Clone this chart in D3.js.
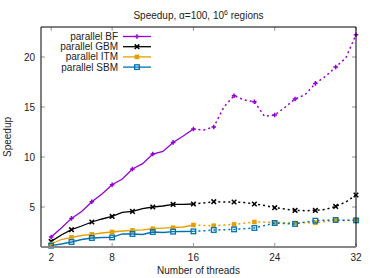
<!DOCTYPE html>
<html>
<head>
<meta charset="utf-8">
<script src="https://cdn.jsdelivr.net/npm/d3@7"></script>
<style>
  body { margin: 0; background: #fff; }
  text { font-family: "Liberation Sans", Arial, sans-serif; fill: #222; }
</style>
</head>
<body>
<div id="container"></div>
<script>
/* CONSTANTS AND GLOBALS */
const width = 374,
  height = 278,
  margin = { top: 27, bottom: 31, left: 41, right: 18 };

// data: one value per thread count
const threads = [2, 3, 4, 5, 6, 7, 8, 9, 10, 11, 12, 13, 14, 15, 16, 17, 18, 19, 20, 21, 22, 23, 24, 25, 26, 27, 28, 29, 30, 31, 32];
const bf = [2.0, 2.9, 3.86, 4.55, 5.53, 6.3, 7.23, 7.8, 8.8, 9.33, 10.3, 10.56, 11.46, 12.1, 12.8, 12.7, 13.0, 15.0, 16.13, 15.7, 15.53, 14.06, 14.2, 14.96, 15.8, 16.23, 17.36, 18.06, 19.0, 19.9, 22.23];
const gbm = [1.56, 2.2, 2.73, 3.1, 3.5, 3.8, 4.06, 4.46, 4.56, 4.83, 5.0, 5.1, 5.26, 5.27, 5.3, 5.4, 5.53, 5.5, 5.5, 5.45, 5.3, 5.15, 4.93, 4.8, 4.66, 4.63, 4.66, 4.75, 5.06, 5.5, 6.2];
const itm = [1.3, 1.75, 1.96, 2.15, 2.26, 2.4, 2.5, 2.6, 2.66, 2.72, 2.83, 2.88, 2.93, 3.0, 3.2, 3.15, 3.13, 3.2, 3.26, 3.38, 3.5, 3.48, 3.46, 3.43, 3.4, 3.42, 3.43, 3.55, 3.66, 3.65, 3.63];
const sbm = [1.13, 1.3, 1.5, 1.75, 1.9, 1.95, 1.96, 2.3, 2.3, 2.25, 2.5, 2.45, 2.53, 2.55, 2.56, 2.62, 2.7, 2.72, 2.76, 2.83, 2.9, 3.15, 3.4, 3.35, 3.3, 3.5, 3.63, 3.68, 3.7, 3.68, 3.66];

const seriesNames = ["parallel BF", "parallel GBM", "parallel ITM", "parallel SBM"];
const seriesColors = ["#9400d3", "#000000", "#e69f00", "#0072b2"];
const seriesMarkers = ["plus", "cross", "fsquare", "osquare"];
const xTicks = [2, 8, 16, 24, 32];
const yTicks = [5, 10, 15, 20];
const splitAt = 16; // solid up to here, dotted after

const series = [bf, gbm, itm, sbm].map((vals, i) => ({
  name: seriesNames[i],
  color: seriesColors[i],
  marker: seriesMarkers[i],
  values: vals.map((v, j) => ({ t: threads[j], v: v }))
}));

/* SCALES */
const xScale = d3.scaleLinear()
  .domain([1, 32])
  .range([margin.left, width - margin.right]);

const yScale = d3.scaleLinear()
  .domain([1, 23])
  .range([height - margin.bottom, margin.top]);

const svg = d3.select("#container")
  .append("svg")
  .attr("width", width)
  .attr("height", height);

// title
const title = svg.append("text")
  .attr("x", (margin.left + width - margin.right) / 2)
  .attr("y", 19)
  .attr("text-anchor", "middle")
  .attr("font-size", 10);
title.append("tspan").text("Speedup, α=100, 10");
title.append("tspan").attr("font-size", 7).attr("dy", -4).text("6");
title.append("tspan").attr("dy", 4).text(" regions");

// + AXES (gnuplot style, ticks inside and mirrored)
const tickLen = 4;
const x0 = xScale.range()[0], x1 = xScale.range()[1];
const y0 = yScale.range()[0], y1 = yScale.range()[1];

svg.append("g")
  .selectAll("line")
  .data(yTicks)
  .join("line")
  .attr("x1", x0).attr("x2", x0 + tickLen)
  .attr("y1", d => yScale(d)).attr("y2", d => yScale(d))
  .attr("stroke", "#999");
svg.append("g")
  .selectAll("line")
  .data(yTicks)
  .join("line")
  .attr("x1", x1).attr("x2", x1 - tickLen)
  .attr("y1", d => yScale(d)).attr("y2", d => yScale(d))
  .attr("stroke", "#999");
svg.append("g")
  .selectAll("line")
  .data(xTicks)
  .join("line")
  .attr("x1", d => xScale(d)).attr("x2", d => xScale(d))
  .attr("y1", y0).attr("y2", y0 - tickLen)
  .attr("stroke", "#999");
svg.append("g")
  .selectAll("line")
  .data(xTicks)
  .join("line")
  .attr("x1", d => xScale(d)).attr("x2", d => xScale(d))
  .attr("y1", y1).attr("y2", y1 + tickLen)
  .attr("stroke", "#999");

svg.append("g")
  .selectAll("text")
  .data(yTicks)
  .join("text")
  .attr("x", x0 - 6)
  .attr("y", d => yScale(d) + 3.5)
  .attr("text-anchor", "end")
  .attr("font-size", 10)
  .text(d => d);

svg.append("g")
  .selectAll("text")
  .data(xTicks)
  .join("text")
  .attr("x", d => xScale(d))
  .attr("y", y0 + 14)
  .attr("text-anchor", "middle")
  .attr("font-size", 10)
  .text(d => d);

svg.append("text")
  .attr("x", (x0 + x1) / 2)
  .attr("y", 274)
  .attr("text-anchor", "middle")
  .attr("font-size", 10)
  .text("Number of threads");

svg.append("text")
  .attr("transform", `translate(11,${(y0 + y1) / 2}) rotate(-90)`)
  .attr("text-anchor", "middle")
  .attr("font-size", 10)
  .text("Speedup");

// + LINES
const line = d3.line()
  .x(d => xScale(d.t))
  .y(d => yScale(d.v));

function drawMarker(g, type, color, cx, cy) {
  const s = 2.3;
  if (type === "plus") {
    g.append("path")
      .attr("d", `M${cx - s},${cy}H${cx + s}M${cx},${cy - s}V${cy + s}`)
      .attr("stroke", color).attr("stroke-width", 1.5);
  } else if (type === "cross") {
    g.append("path")
      .attr("d", `M${cx - s},${cy - s}L${cx + s},${cy + s}M${cx - s},${cy + s}L${cx + s},${cy - s}`)
      .attr("stroke", color).attr("stroke-width", 1.5);
  } else if (type === "fsquare") {
    g.append("rect")
      .attr("x", cx - s).attr("y", cy - s)
      .attr("width", 2 * s).attr("height", 2 * s)
      .attr("fill", color);
  } else {
    g.append("rect")
      .attr("x", cx - s).attr("y", cy - s)
      .attr("width", 2 * s).attr("height", 2 * s)
      .attr("fill", "none")
      .attr("stroke", color).attr("stroke-width", 1.3);
  }
}

const plot = svg.append("g");
series.forEach(s => {
  const g = plot.append("g");
  g.append("path")
    .datum(s.values.filter(d => d.t <= splitAt))
    .attr("d", line)
    .attr("fill", "none")
    .attr("stroke", s.color)
    .attr("stroke-width", 1.3);
  g.append("path")
    .datum(s.values.filter(d => d.t >= splitAt))
    .attr("d", line)
    .attr("fill", "none")
    .attr("stroke", s.color)
    .attr("stroke-width", 1.5)
    .attr("stroke-dasharray", "2,3");
  // markers every 2 threads
  s.values.filter(d => d.t % 2 === 0).forEach(d => {
    drawMarker(g, s.marker, s.color, xScale(d.t), yScale(d.v));
  });
});

// + BORDER
svg.append("path")
  .attr("d", `M${x0},${y0}V${y1}H${x1}V${y0}`)
  .attr("fill", "none")
  .attr("stroke", "#000")
  .attr("stroke-width", 1);
svg.append("line")
  .attr("x1", x0).attr("x2", x1)
  .attr("y1", y0).attr("y2", y0)
  .attr("stroke", "#888")
  .attr("stroke-width", 2);

// + LEGEND
const legend = svg.append("g");
series.forEach((s, i) => {
  const ly = 36.5 + i * 10.2;
  legend.append("text")
    .attr("x", 118)
    .attr("y", ly + 3.5)
    .attr("text-anchor", "end")
    .attr("font-size", 10)
    .text(s.name);
  legend.append("line")
    .attr("x1", 123).attr("x2", 151)
    .attr("y1", ly).attr("y2", ly)
    .attr("stroke", s.color)
    .attr("stroke-width", 1.3);
  drawMarker(legend, s.marker, s.color, 137, ly);
});
</script>
</body>
</html>
